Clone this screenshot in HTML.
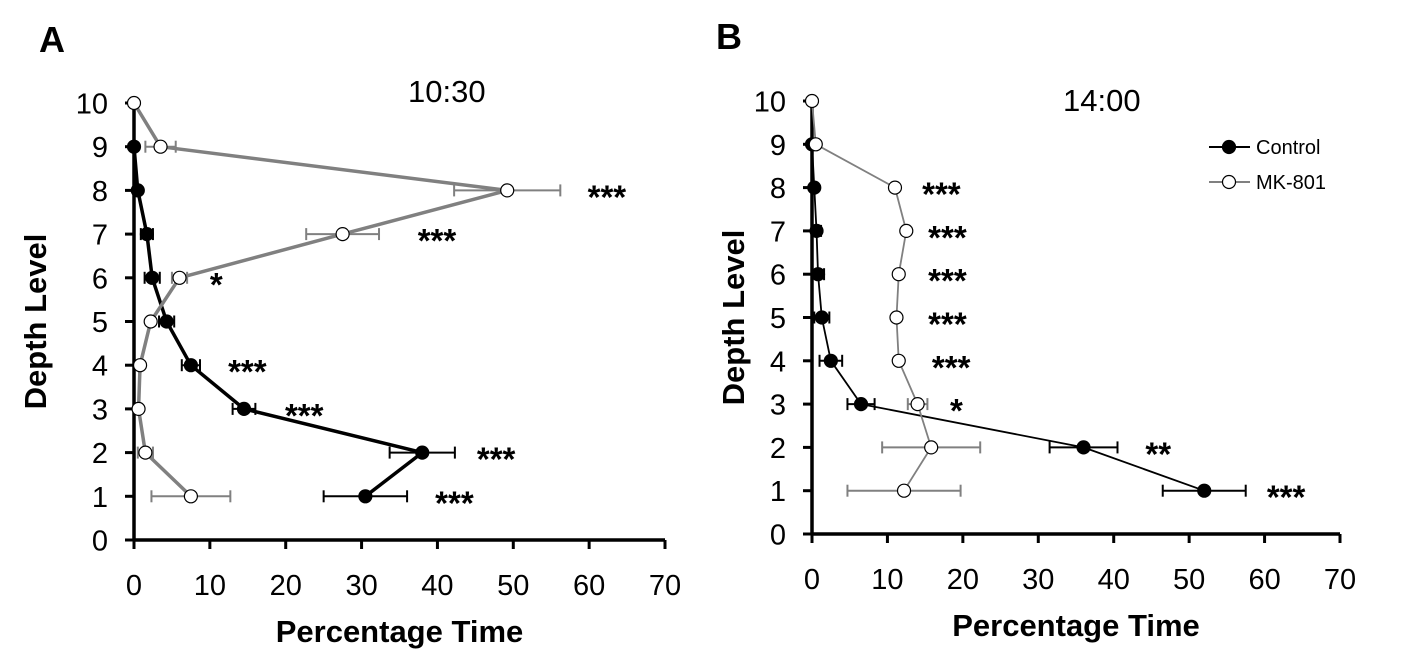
<!DOCTYPE html>
<html><head><meta charset="utf-8"><style>
html,body{margin:0;padding:0;background:#fff;}
svg{display:block;font-family:"Liberation Sans",Arial,sans-serif;}
</style></head><body>
<svg id="chart" width="1402" height="667" viewBox="0 0 1402 667"></svg>
<script>
const levels = [1,2,3,4,5,6,7,8,9,10];
const xTicks = [0,10,20,30,40,50,60,70];
const yTicks = [0,1,2,3,4,5,6,7,8,9,10];
// Panel A (10:30)
const aControl = [30.5,38,14.5,7.5,4.3,2.4,1.7,0.5,0,null];
const aControlErr = [5.5,4.3,1.5,1.2,1,1,0.8,0,0,0];
const aMK = [7.5,1.5,0.6,0.8,2.2,6,27.5,49.2,3.5,0];
const aMKErr = [5.2,1,0,0,0,1,4.8,7,2,0];
const aStars = ["***","***","***","***","","*","***","***","",""];
const aStarX = [39.7,45.2,19.9,12.4,0,10,37.4,59.8,0,0];
// Panel B (14:00)
const bControl = [52,36,6.5,2.5,1.3,0.8,0.6,0.3,0,null];
const bControlErr = [5.5,4.5,1.8,1.5,1,0.8,0.6,0,0,0];
const bMK = [12.2,15.8,14,11.5,11.2,11.5,12.5,11,0.5,0];
const bMKErr = [7.5,6.5,1.3,0,0,0,0,0,0,0];
const bStars = ["***","**","*","***","***","***","***","***","",""];
const bStarX = [60.3,44.2,18.3,15.9,15.4,15.4,15.4,14.6,0,0];

const svg = document.getElementById('chart');
const NS = 'http://www.w3.org/2000/svg';
function mk(tag, attrs, parent){
  const e = document.createElementNS(NS, tag);
  for (const k in attrs) e.setAttribute(k, attrs[k]);
  (parent||svg).appendChild(e);
  return e;
}
function txt(s, attrs, parent){ const t = mk('text', attrs, parent); t.textContent = s; return t; }

function panel(cfg){
  const g = mk('g', {});
  
  
  const sx = v => cfg.x0 + v * (cfg.x1 - cfg.x0) / 70;
  const sy = v => cfg.y0 - v * (cfg.y0 - cfg.y1) / 10;
  const ax = mk('line', {x1:sx(0), y1:sy(0), x2:sx(70), y2:sy(0), stroke:'#000','stroke-width':3.5}, g);
   
  const ay = mk('line', {x1:sx(0), y1:sy(0)+1.5, x2:sx(0), y2:sy(10), stroke:'#000','stroke-width':3.5}, g);
   
  xTicks.forEach(t => {
    mk('line', {x1:sx(t), y1:sy(0), x2:sx(t), y2:sy(0)+9, stroke:'#000','stroke-width':3}, g);
    const l = txt(String(t), {x:sx(t), y:sy(0)+55, 'font-size':29, 'text-anchor':'middle'}, g);
     
  });
  yTicks.forEach(t => {
    mk('line', {x1:sx(0)-9, y1:sy(t), x2:sx(0), y2:sy(t), stroke:'#000','stroke-width':3}, g);
    const l = txt(String(t), {x:sx(0)-26, y:sy(t)+10.5, 'font-size':29, 'text-anchor':'end'}, g);
     
  });
  function series(vals, errs, color, fill, lw, nm){
    const sg = mk('g', {}, g);
     
    levels.forEach((lv,i)=>{
      if (vals[i] !== null && errs[i] > 0){
        const y = sy(lv), a = sx(vals[i]-errs[i]), b = sx(vals[i]+errs[i]);
        mk('line',{x1:a,y1:y,x2:b,y2:y,stroke:color,'stroke-width':2},sg);
        mk('line',{x1:a,y1:y-6,x2:a,y2:y+6,stroke:color,'stroke-width':2},sg);
        mk('line',{x1:b,y1:y-6,x2:b,y2:y+6,stroke:color,'stroke-width':2},sg);
      }
    });
    const pts = levels.filter((lv,i)=>vals[i]!==null).map(lv=> sx(vals[lv-1]) + ',' + sy(lv)).join(' ');
    const pl = mk('polyline',{points:pts, fill:'none', stroke:color, 'stroke-width':lw, 'stroke-linejoin':'round'}, sg);
     
    levels.forEach((lv,i)=>{
      if (vals[i] === null) return;
      const c = mk('circle',{cx:sx(vals[i]), cy:sy(lv), r:6.5, fill:fill, stroke:'#000','stroke-width':1.2}, sg);
       
    });
  }
  series(cfg.ctl, cfg.ctlErr, '#000', '#000', cfg.lwC, 'control-series');
  series(cfg.mk, cfg.mkErr, '#808080', '#fff', cfg.lwMK, 'mk801-series');
  levels.forEach((lv,i)=>{
    if (cfg.stars[i]){
      const s = txt(cfg.stars[i], {x:sx(cfg.starX[i]), y:sy(lv)+18, 'font-size':33, 'font-weight':'bold'}, g);
       
    }
  });
  const pl = txt(cfg.letter, {x:cfg.lx, y:cfg.ly, 'font-size':36, 'font-weight':'bold'}, g);
   
  const tt = txt(cfg.title, {x:cfg.tx, y:cfg.ty, 'font-size':31}, g);
   
  const yt = txt('Depth Level', {x:0, y:0, 'font-size':31, 'font-weight':'bold', 'text-anchor':'middle', transform:'translate('+cfg.ytx+','+((sy(0)+sy(10))/2)+') rotate(-90)'}, g);
   
  const xt = txt('Percentage Time', {x:(sx(0)+sx(70))/2, y:cfg.xty, 'font-size':31, 'font-weight':'bold', 'text-anchor':'middle'}, g);
   
}

panel({name:'panel-a', x0:134, x1:665, y0:540, y1:103, ctl:aControl, ctlErr:aControlErr, mk:aMK, mkErr:aMKErr,
  stars:aStars, starX:aStarX, letter:'A', lx:39, ly:52, title:'10:30', tx:408, ty:102, ytx:46, xty:642, lwC:3.5, lwMK:3.5});
panel({name:'panel-b', x0:812, x1:1340, y0:534, y1:101, ctl:bControl, ctlErr:bControlErr, mk:bMK, mkErr:bMKErr,
  stars:bStars, starX:bStarX, letter:'B', lx:716, ly:49, title:'14:00', tx:1063, ty:111, ytx:744, xty:636, lwC:1.8, lwMK:1.8});

const lg = mk('g', {});
 
[['Control','#000','#000',147],['MK-801','#808080','#fff',182]].forEach(d=>{
  const e = mk('g', {}, lg);
   
  mk('line',{x1:1209,y1:d[3],x2:1250,y2:d[3],stroke:d[1],'stroke-width':2},e);
  mk('circle',{cx:1229,cy:d[3],r:6.5,fill:d[2],stroke:'#000','stroke-width':1.2},e);
  txt(d[0],{x:1256,y:d[3]+7,'font-size':20},e);
});
</script>
</body></html>
